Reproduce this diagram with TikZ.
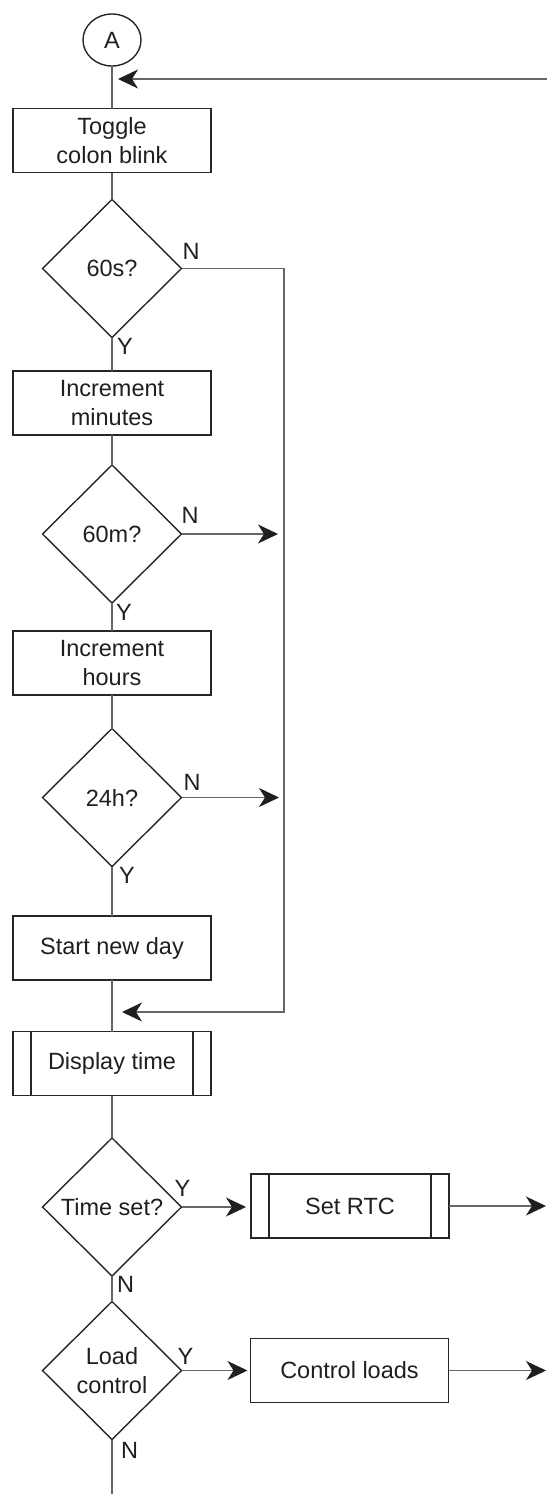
\documentclass[tikz,border=0pt]{standalone}
\usepackage{fontspec}
\setmainfont{Liberation Sans}
\usetikzlibrary{shapes.geometric,arrows.meta}
\tikzset{
  box/.style={draw=black!85,line width=1.4pt,minimum width=198pt,minimum height=64pt,
    inner sep=0pt,outer sep=0pt,align=center,text=black!88},
  sub/.style={box,path picture={
      \draw[black!85,line width=1.2pt]
        ([xshift=18pt]path picture bounding box.north west) -- ([xshift=18pt]path picture bounding box.south west)
        ([xshift=-18pt]path picture bounding box.north east) -- ([xshift=-18pt]path picture bounding box.south east);}},
  test/.style={diamond,draw=black!85,line width=1.4pt,minimum width=139pt,minimum height=138pt,
    inner sep=0pt,outer sep=0pt,align=center,text=black!88},
  joint/.style={ellipse,draw=black!85,line width=1.4pt,minimum width=58pt,minimum height=52pt,
    inner sep=0pt,outer sep=0pt,text=black!88},
  yn/.style={inner sep=0pt,text=black!88},
  link/.style={draw=black!60,line width=1.1pt},
  flow/.style={link,-{Stealth[length=20pt,width=19pt,inset=6pt,color=black!88]}}
}
\begin{document}
\begin{tikzpicture}[x=1pt,y=-1pt,font=\fontsize{23.5}{29}\selectfont]
      \useasboundingbox (0,0) rectangle (547,1494);
      \node[joint] (A) at (112,40) {A};
      \node[box] (blink) at (112,140.5) {Toggle\\colon blink};
      \node[test] (sec) at (112,268.5) {60s?};
      \node[box] (incmin) at (112,403) {Increment\\minutes};
      \node[test] (mins) at (112,534) {60m?};
      \node[box] (inchr) at (112,663) {Increment\\hours};
      \node[test] (hrs) at (112,797.5) {24h?};
      \node[box] (day) at (112,948) {Start new day};
      \node[sub] (disp) at (112,1063.5) {Display time};
      \node[test] (set) at (112,1207) {Time set?};
      \node[sub] (rtc) at (350,1206) {Set RTC};
      \node[test] (load) at (112,1370.5) {Load\\control};
      \node[box] (loads) at (349.5,1370.5) {Control loads};
      \coordinate (in) at (547,79);
      \coordinate (back) at (284,1012);
      \coordinate (out1) at (546,1206);
      \coordinate (out2) at (546,1370.5);
      \coordinate (stop) at (112,1494);
      \node[yn,anchor=south west] (secN) at ([xshift=1pt,yshift=9pt]sec.east) {N};
      \node[yn,anchor=north west] (secY) at ([xshift=5pt,yshift=-1pt]sec.south) {Y};
      \node[yn,anchor=south west] (minsN) at ([xshift=0pt,yshift=10pt]mins.east) {N};
      \node[yn,anchor=north west] (minsY) at ([xshift=4pt,yshift=-1pt]mins.south) {Y};
      \node[yn,anchor=south west] (hrsN) at ([xshift=2pt,yshift=7pt]hrs.east) {N};
      \node[yn,anchor=north west] (hrsY) at ([xshift=7pt,yshift=-1pt]hrs.south) {Y};
      \node[yn,anchor=south] (setY) at ([xshift=1pt,yshift=10pt]set.east) {Y};
      \node[yn,anchor=north west] (setN) at ([xshift=5pt,yshift=0pt]set.south) {N};
      \node[yn,anchor=south] (loadY) at ([xshift=4pt,yshift=6pt]load.east) {Y};
      \node[yn,anchor=north west] (loadN) at ([xshift=9pt,yshift=-3pt]load.south) {N};
      \begin{scope}[link]
        \draw (A) to (blink);
        \draw (blink) to (sec);
        \draw (sec) to (incmin);
        \draw (incmin) to (mins);
        \draw (mins) to (inchr);
        \draw (inchr) to (hrs);
        \draw (hrs) to (day);
        \draw (day) to (disp);
        \draw (disp) to (set);
        \draw (set) to (load);
        \draw (load) to (stop);
      \end{scope}
      \begin{scope}[flow]
        \draw[shorten >=6pt] (in) to (in -| A);
        \draw[shorten >=10pt] (sec.east) -| (back) -- (back -| disp);
        \draw[shorten >=6pt] (mins.east) to (mins.east -| back);
        \draw[shorten >=5pt] (hrs.east) to (hrs.east -| back);
        \draw[shorten >=5pt] (set.east) to (set.east -| rtc.west);
        \draw (rtc.east |- out1) to (out1);
        \draw[shorten >=3pt] (load.east) to (loads.west);
        \draw (loads.east) to (out2);
      \end{scope}
    \end{tikzpicture}
\end{document}
